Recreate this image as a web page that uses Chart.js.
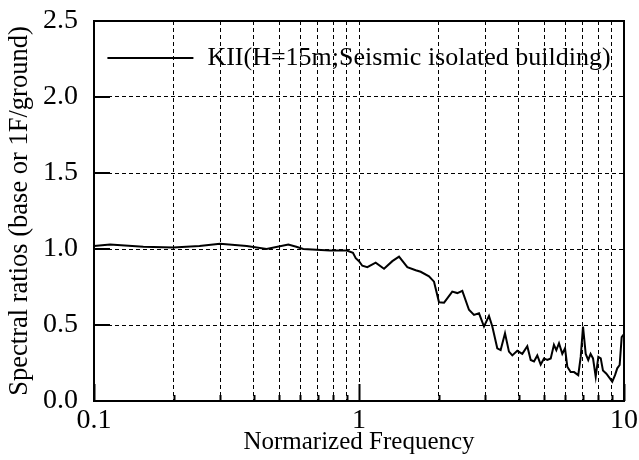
<!DOCTYPE html>
<html>
<head>
<meta charset="utf-8">
<script src="https://cdn.jsdelivr.net/npm/chart.js@4/dist/chart.umd.min.js"></script>
<style>
html,body{margin:0;padding:0;background:#fff;}
#wrap{width:639px;height:460px;position:relative;}
</style>
</head>
<body>
<div id="wrap"><canvas id="c" width="639" height="460"></canvas></div>
<script>
// ---- data ----
const seriesLabel = 'KII(H=15m;Seismic isolated building)';
const freq = [0.1,0.115,0.1535,0.199,0.25,0.299,0.377,0.448,0.541,0.58,
  0.616,0.777,0.899,0.949,0.972,1.0,1.029,1.075,1.156,1.243,
  1.336,1.416,1.522,1.637,1.709,1.837,1.919,2.004,2.094,2.249,
  2.35,2.454,2.6,2.716,2.837,2.963,3.094,3.185,3.325,3.424,
  3.556,3.68,3.789,3.957,4.133,4.316,4.446,4.575,4.708,4.849,
  4.989,5.136,5.29,5.44,5.555,5.685,5.85,5.99,6.11,6.29,
  6.48,6.72,6.865,7.004,7.17,7.33,7.48,7.64,7.82,8.0,
  8.17,8.33,8.58,8.83,9.03,9.25,9.43,9.63,9.8,10.0];
const ratio = [1.02,1.03,1.015,1.01,1.02,1.035,1.02,1.0,1.03,1.015,
  1.0,0.99,0.99,0.975,0.94,0.92,0.89,0.88,0.91,0.87,
  0.92,0.95,0.88,0.86,0.85,0.82,0.785,0.65,0.647,0.72,
  0.71,0.725,0.6,0.566,0.577,0.49,0.56,0.49,0.347,0.335,
  0.445,0.325,0.3,0.33,0.31,0.36,0.27,0.26,0.3,0.24,
  0.28,0.27,0.28,0.37,0.335,0.38,0.31,0.347,0.226,0.19,
  0.19,0.17,0.29,0.49,0.31,0.27,0.31,0.28,0.16,0.29,
  0.28,0.2,0.18,0.15,0.127,0.17,0.215,0.237,0.42,0.44];
const xTickValues = [0.1,0.2,0.3,0.4,0.5,0.6,0.7,0.8,0.9,1,2,3,4,5,6,7,8,9,10];
const xMajorTicks = [0.1,1,10];
const yTickValues = [0,0.5,1.0,1.5,2.0,2.5];
const xTitle = 'Normarized Frequency';
const yTitle = 'Spectral ratios (base or 1F/ground)';

const FONT = "'Liberation Serif','Times New Roman',serif";

const frameAndTicks = {
  id: 'frameAndTicks',
  afterDraw(chart) {
    const {ctx, chartArea: a, scales: {x, y}} = chart;
    ctx.save();
    ctx.strokeStyle = '#000';
    ctx.lineWidth = 2;
    ctx.beginPath();
    xTickValues.forEach(v => {
      const px = Math.round(x.getPixelForValue(v)) + 0.5;
      const len = xMajorTicks.includes(v) ? 17 : 6;
      ctx.moveTo(px, a.bottom);
      ctx.lineTo(px, a.bottom - len);
    });
    yTickValues.forEach(v => {
      const py = Math.round(y.getPixelForValue(v));
      ctx.moveTo(a.left, py);
      ctx.lineTo(a.left + 16, py);
    });
    ctx.stroke();
    ctx.strokeRect(a.left, a.top, a.right - a.left, a.bottom - a.top);

    // legend inside the plot area, top
    const ds = chart.data.datasets[0];
    ctx.font = '26px ' + FONT;
    const lineW = 86, gap = 14;
    const textW = ctx.measureText(ds.label).width;
    const total = lineW + gap + textW;
    const x0 = (a.left + a.right) / 2 - total / 2;
    const yc = a.top + 37;
    ctx.lineWidth = ds.borderWidth;
    ctx.strokeStyle = ds.borderColor;
    ctx.beginPath();
    ctx.moveTo(x0, yc);
    ctx.lineTo(x0 + lineW, yc);
    ctx.stroke();
    ctx.fillStyle = '#000';
    ctx.textBaseline = 'middle';
    ctx.textAlign = 'left';
    ctx.fillText(ds.label, x0 + lineW + gap, yc);
    ctx.restore();
  }
};

new Chart(document.getElementById('c'), {
  type: 'line',
  data: {
    datasets: [{
      label: seriesLabel,
      data: freq.map((f, i) => ({x: f, y: ratio[i]})),
      borderColor: '#000',
      backgroundColor: '#000',
      borderWidth: 2,
      pointRadius: 0,
      tension: 0,
      fill: false
    }]
  },
  options: {
    responsive: false,
    animation: false,
    devicePixelRatio: 1,
    layout: {padding: {top: 21, right: 15, left: 0, bottom: 0}},
    plugins: {
      legend: {display: false},
      tooltip: {enabled: false}
    },
    scales: {
      x: {
        type: 'logarithmic',
        min: 0.1,
        max: 10,
        afterBuildTicks(s) { s.ticks = xTickValues.map(v => ({value: v})); },
        afterFit(s) { s.height = 59; s.paddingLeft = 0; s.paddingRight = 0; },
        ticks: {
          autoSkip: false,
          maxRotation: 0,
          padding: 3,
          color: '#000',
          font: {family: FONT, size: 28},
          callback(v) { return xMajorTicks.includes(v) ? String(v) : ''; }
        },
        grid: {
          drawTicks: false,
          color: (c) => (c.tick && (c.tick.value === 0.1 || c.tick.value === 10)) ? 'rgba(0,0,0,0)' : '#000',
          lineWidth: 1
        },
        border: {display: false, dash: [4, 3]},
        title: {
          display: true,
          text: xTitle,
          color: '#000',
          font: {family: FONT, size: 25},
          padding: {top: 0, bottom: 3}
        }
      },
      y: {
        type: 'linear',
        min: 0,
        max: 2.5,
        afterBuildTicks(s) { s.ticks = yTickValues.map(v => ({value: v})); },
        afterFit(s) { s.width = 94; s.paddingTop = 0; s.paddingBottom = 0; },
        ticks: {
          padding: 16,
          color: '#000',
          font: {family: FONT, size: 28},
          callback(v) { return Number(v).toFixed(1); }
        },
        grid: {
          drawTicks: false,
          color: (c) => (c.tick && (c.tick.value === 0 || c.tick.value === 2.5)) ? 'rgba(0,0,0,0)' : '#000',
          lineWidth: 1
        },
        border: {display: false, dash: [4, 3]},
        title: {
          display: true,
          text: yTitle,
          color: '#000',
          font: {family: FONT, size: 26.5},
          padding: {top: 4, bottom: 0}
        }
      }
    }
  },
  plugins: [frameAndTicks]
});
</script>
</body>
</html>
